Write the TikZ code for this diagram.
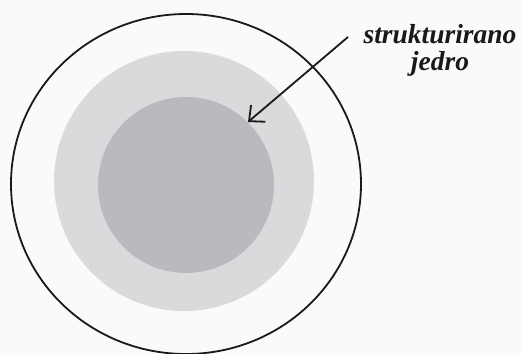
\documentclass[tikz,border=0pt]{standalone}
\usepackage{fontspec}
\setmainfont{Liberation Serif}
\usetikzlibrary{arrows.meta}
\definecolor{bgc}{RGB}{250,250,251}
\definecolor{lightg}{RGB}{218,218,221}
\definecolor{darkg}{RGB}{186,186,190}
\definecolor{inkc}{RGB}{25,25,25}
\tikzset{
  ring/.style={draw=inkc, line width=1.8pt},
  lbl/.style={font=\fontsize{27.5}{27}\selectfont\bfseries\itshape, text=inkc, align=center, inner sep=0pt},
  pointer/.style={draw=inkc, line width=1.8pt, -{Straight Barb[length=12pt,width=22pt,line width=1.8pt]}}
}
\begin{document}
\begin{tikzpicture}[x=1pt,y=-1pt]
\useasboundingbox[fill=bgc] (0,0) rectangle (521,353);
\fill[lightg] (184,181) circle (130);
\fill[darkg] (186,185) circle (88);
\draw[ring] (186,184) ellipse [x radius=175, y radius=170];
\node[lbl, anchor=north] (label) at (440,24) {strukturirano\\jedro};
\coordinate (tail) at (348,37);
\coordinate (tip) at (248,122);
\draw[pointer] (tail) -- (tip);
\end{tikzpicture}
\end{document}
